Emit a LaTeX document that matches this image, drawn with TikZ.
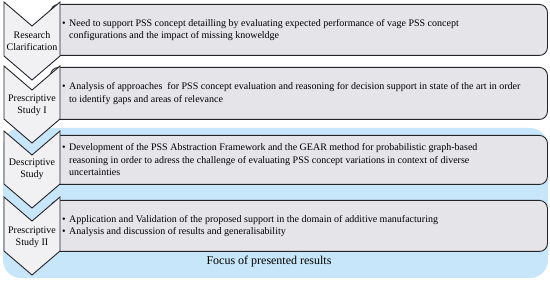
\documentclass[tikz,border=0pt]{standalone}
\usepackage{fontspec}
\setmainfont{Liberation Serif}
\definecolor{boxgray}{RGB}{228,228,233}
\definecolor{chevgray}{RGB}{241,241,243}
\definecolor{focusblue}{RGB}{200,230,249}
\definecolor{edgegray}{RGB}{35,35,40}
\newcommand{\bul}{\makebox[7pt][l]{\textbullet}}
\newcommand{\hang}{\hspace*{7pt}}
\begin{document}
\begin{tikzpicture}[x=1pt, y=-1pt,
  stagebox/.style={draw=edgegray, line width=0.9pt, fill=boxgray,
    rounded corners=8pt, minimum width=497pt, minimum height=#1,
    anchor=north west, inner sep=0pt},
  chev/.style={draw=edgegray, line width=0.9pt, fill=chevgray, line join=miter},
  stagetext/.style={anchor=west, align=left, inner sep=0pt,
    font=\fontsize{10}{12.5}\selectfont},
  phase/.style={align=center, inner sep=0pt, font=\fontsize{10}{12}\selectfont}]
  \useasboundingbox (0,0) rectangle (550,283);
  % Focus region (light blue)
  \fill[focusblue, rounded corners=18pt] (3,128) rectangle (548,278);
  \node[font=\fontsize{12}{14}\selectfont] (focus) at (269,262) {Focus of presented results};
  % Content boxes
  \node[stagebox=51pt] (box1) at (50,4) {};
  \node[stagebox=52pt] (box2) at (50,67) {};
  \node[stagebox=49pt] (box3) at (50,135) {};
  \node[stagebox=51pt] (box4) at (50,200) {};
  % Phase chevrons
  \draw[chev] (4,2) -- (32,26) -- (60,2) -- (60,56) -- (32,80) -- (4,56) -- cycle;
  \draw[chev] (4,66) -- (32,90) -- (60,66) -- (60,119) -- (32,143) -- (4,119) -- cycle;
  \draw[chev] (4,131) -- (32,155) -- (60,131) -- (60,184) -- (32,208) -- (4,184) -- cycle;
  \draw[chev] (4,197) -- (32,221) -- (60,197) -- (60,251) -- (32,275) -- (4,251) -- cycle;
  % Phase labels
  \node[phase] (rc) at (32,41) {Research\\Clarification};
  \node[phase] (ps1) at (32,105.5) {Prescriptive\\Study I};
  \node[phase] (ds) at (32,169.5) {Descriptive\\Study};
  \node[phase] (ps2) at (32,237) {Prescriptive\\Study II};
  % Box texts
  \node[stagetext] (txt1) at ([xshift=12pt]box1.west) {\bul Need to support PSS concept detailling by evaluating expected performance of vage PSS concept\\
    \hang configurations and the impact of missing knoweldge};
  \node[stagetext] (txt2) at ([xshift=12pt]box2.west) {\bul Analysis of approaches\ \ for PSS concept evaluation and reasoning for decision support in state of the art in order\\
    \hang to identify gaps and areas of relevance};
  \node[stagetext] (txt3) at ([xshift=12pt]box3.west) {\bul Development of the PSS Abstraction Framework and the GEAR method for probabilistic graph-based\\
    \hang reasoning in order to adress the challenge of evaluating PSS concept variations in context of diverse\\
    \hang uncertainties};
  \node[stagetext] (txt4) at ([xshift=12pt]box4.west) {\bul Application and Validation of the proposed support in the domain of additive manufacturing\\
    \bul Analysis and discussion of results and generalisability};
\end{tikzpicture}
\end{document}
